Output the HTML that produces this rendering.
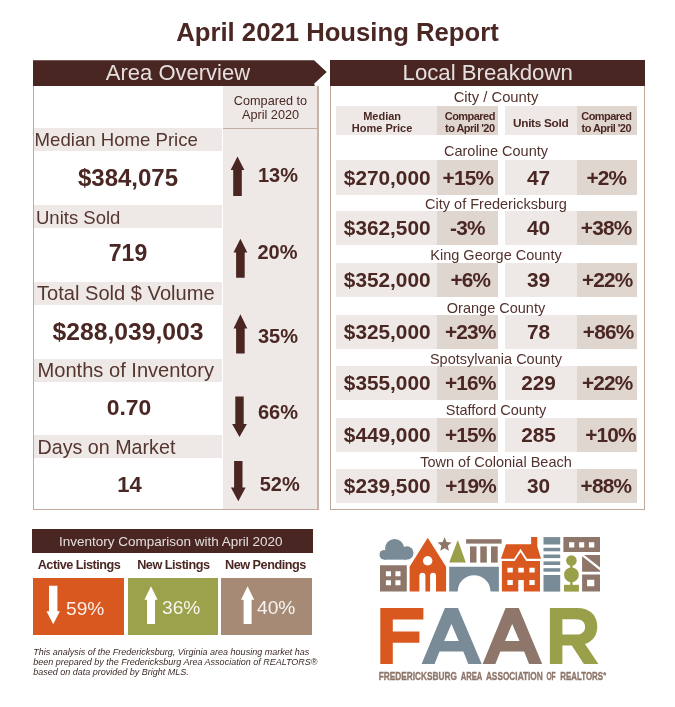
<!DOCTYPE html>
<html>
<head>
<meta charset="utf-8">
<title>April 2021 Housing Report</title>
<style>
html,body{margin:0;padding:0;}
body{width:675px;height:707px;position:relative;background:#ffffff;overflow:hidden;
  font-family:"Liberation Sans",sans-serif;color:#4a2723;}
.a{position:absolute;white-space:nowrap;}
#wrap{position:absolute;left:0;top:0;width:675px;height:707px;will-change:transform;}
.c{text-align:center;}
.hdr{background:#4a2622;color:#fff;}
.band{position:absolute;left:34px;width:188px;height:23px;background:#eee9e6;}
.lbl{position:absolute;left:36px;font-size:18.5px;line-height:23px;color:#55352f;white-space:nowrap;}
.val{position:absolute;left:34px;width:188px;text-align:center;font-weight:bold;font-size:23px;line-height:30px;white-space:nowrap;}
.pct{position:absolute;left:251px;width:54px;text-align:center;font-weight:bold;font-size:20px;line-height:26px;white-space:nowrap;}
.cn{position:absolute;left:346px;width:300px;text-align:center;font-size:14.5px;line-height:17px;white-space:nowrap;color:#52322d;}
.l1{position:absolute;left:336px;width:101.5px;height:34.4px;background:#eee9e6;}
.d1{position:absolute;left:437.4px;width:60.6px;height:34.4px;background:#e0d6d0;}
.l2{position:absolute;left:505px;width:71.6px;height:34.4px;background:#eee9e6;}
.d2{position:absolute;left:576.5px;width:60.3px;height:34.4px;background:#e0d6d0;}
.rv{position:absolute;width:120px;text-align:center;font-weight:bold;font-size:20.8px;line-height:34.4px;white-space:nowrap;}
.rp{letter-spacing:-0.8px;text-indent:-0.8px;}
.hc{font-weight:bold;font-size:11px;line-height:12px;text-align:center;white-space:nowrap;}
.lb{top:557.5px;font-size:12.7px;font-weight:bold;line-height:15px;letter-spacing:-0.5px;}
.bp{font-size:19.2px;line-height:24px;color:rgba(255,255,255,0.9);}
</style>
</head>
<body>
<div id="wrap">

<!-- Title -->
<div class="a c" style="left:0;width:675px;top:16px;font-size:25.7px;line-height:32px;font-weight:bold;color:#4a2723;">April 2021 Housing Report</div>

<!-- LEFT PANEL -->
<div class="a" style="left:33px;top:86px;width:286px;height:424px;border:1px solid #c0a99d;border-right:2px solid #c8b3a8;border-top:none;box-sizing:border-box;"></div>
<div class="a" style="left:223px;top:86px;width:94px;height:423px;background:#eee9e6;"></div>
<div class="a" style="left:223px;top:128px;width:94px;height:1px;background:#c3aea4;"></div>
<svg class="a" style="left:33px;top:60px;" width="296" height="27" viewBox="0 0 296 27">
  <path d="M0 0.2 H281.1 L293.7 12 L281.1 23.8 L281.9 26 H0 Z" fill="#4a2622"/>
</svg>
<div class="a c" style="left:33px;width:290px;top:60px;font-size:22px;line-height:26px;color:rgba(255,255,255,0.86);">Area Overview</div>
<div class="a c" style="left:223px;width:95px;top:95px;font-size:12.7px;line-height:13.5px;">Compared to<br>April 2020</div>

<div class="band" style="top:128px;"></div>
<div class="band" style="top:205px;"></div>
<div class="band" style="top:282px;"></div>
<div class="band" style="top:358.6px;"></div>
<div class="band" style="top:435.4px;"></div>
<div class="lbl" style="top:128px;left:34.6px;font-size:18.6px;">Median Home Price</div>
<div class="lbl" style="top:205.5px;">Units Sold</div>
<div class="lbl" style="top:282px;left:37px;font-size:20.1px;">Total Sold $ Volume</div>
<div class="lbl" style="top:359px;left:37.5px;font-size:20.1px;">Months of Inventory</div>
<div class="lbl" style="top:435.5px;left:37.5px;font-size:19.7px;">Days on Market</div>

<div class="val" style="top:162.8px;font-size:24px;">$384,075</div>
<div class="val" style="top:238.3px;font-size:23px;">719</div>
<div class="val" style="top:317.3px;font-size:24.7px;">$288,039,003</div>
<div class="val" style="top:392.3px;font-size:22.9px;left:35px;">0.70</div>
<div class="val" style="top:470px;font-size:22px;left:35.5px;">14</div>

<div class="pct" style="top:161.8px;">13%</div>
<div class="pct" style="top:238.8px;left:250.5px;">20%</div>
<div class="pct" style="top:323.3px;">35%</div>
<div class="pct" style="top:399.3px;">66%</div>
<div class="pct" style="top:470.8px;left:252.7px;">52%</div>

<!-- arrows left panel -->
<svg class="a" style="left:0;top:0;" width="330" height="520" viewBox="0 0 330 520">
  <g fill="#4a2622">
    <path d="M237.5 156.5 L244.4 170 H241.8 V195.9 H233.2 V170 H230.6 Z"/>
    <path d="M240.4 238.7 L247.3 252.6 H244.70000000000002 V277.7 H236.1 V252.6 H233.5 Z"/>
    <path d="M240.4 314.2 L247.3 328.5 H244.70000000000002 V353.4 H236.1 V328.5 H233.5 Z"/>
    <path d="M235.3 396.4 H243.7 V424 H246.9 L239.5 437.1 L232.1 424 H235.3 Z"/>
    <path d="M234.10000000000002 461.1 H242.5 V487.5 H245.70000000000002 L238.3 501.2 L230.9 487.5 H234.10000000000002 Z"/>
  </g>
</svg>

<!-- RIGHT PANEL -->
<div class="a" style="left:330px;top:86px;width:315.4px;height:424px;border:1px solid #bea79b;border-top:none;box-sizing:border-box;"></div>
<div class="a hdr c" style="left:330px;top:60.3px;width:315.4px;height:25.8px;font-size:22.2px;line-height:26px;color:rgba(255,255,255,0.86);">Local Breakdown</div>
<div class="cn" style="top:89.2px;font-size:14.8px;">City / County</div>
<div class="l1" style="top:106.3px;height:28.8px;"></div><div class="d1" style="top:106.3px;height:28.8px;"></div><div class="l2" style="top:106.3px;height:28.8px;"></div><div class="d2" style="top:106.3px;height:28.8px;"></div>
<div class="a hc" style="left:332.1px;width:100px;top:109.8px;">Median<br>Home Price</div>
<div class="a hc" style="left:419.8px;width:100px;top:109.6px;letter-spacing:-0.55px;">Compared<br>to April '20</div>
<div class="a hc" style="left:490.7px;width:100px;top:116.3px;letter-spacing:-0.3px;font-size:11.8px;line-height:14px;">Units Sold</div>
<div class="a hc" style="left:556.3px;width:100px;top:109.6px;letter-spacing:-0.55px;">Compared<br>to April '20</div>
<div class="l1" style="top:160.2px;"></div><div class="d1" style="top:160.2px;"></div><div class="l2" style="top:160.2px;"></div><div class="d2" style="top:160.2px;"></div>
<div class="l1" style="top:211px;"></div><div class="d1" style="top:211px;"></div><div class="l2" style="top:211px;"></div><div class="d2" style="top:211px;"></div>
<div class="l1" style="top:262.8px;"></div><div class="d1" style="top:262.8px;"></div><div class="l2" style="top:262.8px;"></div><div class="d2" style="top:262.8px;"></div>
<div class="l1" style="top:315px;"></div><div class="d1" style="top:315px;"></div><div class="l2" style="top:315px;"></div><div class="d2" style="top:315px;"></div>
<div class="l1" style="top:366.1px;"></div><div class="d1" style="top:366.1px;"></div><div class="l2" style="top:366.1px;"></div><div class="d2" style="top:366.1px;"></div>
<div class="l1" style="top:417.6px;"></div><div class="d1" style="top:417.6px;"></div><div class="l2" style="top:417.6px;"></div><div class="d2" style="top:417.6px;"></div>
<div class="l1" style="top:469.1px;"></div><div class="d1" style="top:469.1px;"></div><div class="l2" style="top:469.1px;"></div><div class="d2" style="top:469.1px;"></div>
<div class="cn" style="top:143.3px;">Caroline County</div>
<div class="rv" style="left:327.2px;top:160.5px;">$270,000</div><div class="rv rp" style="left:408.3px;top:160.5px;">+15%</div><div class="rv" style="left:478.5px;top:160.5px;">47</div><div class="rv rp" style="left:546.8px;top:160.5px;">+2%</div>
<div class="cn" style="top:196.3px;">City of Fredericksburg</div>
<div class="rv" style="left:327.2px;top:211.3px;">$362,500</div><div class="rv rp" style="left:407.8px;top:211.3px;">-3%</div><div class="rv" style="left:478.5px;top:211.3px;">40</div><div class="rv rp" style="left:546.5px;top:211.3px;">+38%</div>
<div class="cn" style="top:247.3px;">King George County</div>
<div class="rv" style="left:327.2px;top:263.1px;">$352,000</div><div class="rv rp" style="left:410.7px;top:263.1px;">+6%</div><div class="rv" style="left:478.5px;top:263.1px;">39</div><div class="rv rp" style="left:547.6px;top:263.1px;">+22%</div>
<div class="cn" style="top:299.5px;">Orange County</div>
<div class="rv" style="left:327.2px;top:315.3px;">$325,000</div><div class="rv rp" style="left:410.7px;top:315.3px;">+23%</div><div class="rv" style="left:478.5px;top:315.3px;">78</div><div class="rv rp" style="left:548.5px;top:315.3px;">+86%</div>
<div class="cn" style="top:350.6px;">Spotsylvania County</div>
<div class="rv" style="left:327.2px;top:366.4px;">$355,000</div><div class="rv rp" style="left:410.7px;top:366.4px;">+16%</div><div class="rv" style="left:478.5px;top:366.4px;">229</div><div class="rv rp" style="left:547.6px;top:366.4px;">+22%</div>
<div class="cn" style="top:402.1px;">Stafford County</div>
<div class="rv" style="left:327.2px;top:417.9px;">$449,000</div><div class="rv rp" style="left:410.7px;top:417.9px;">+15%</div><div class="rv" style="left:478.5px;top:417.9px;">285</div><div class="rv rp" style="left:550.9px;top:417.9px;">+10%</div>
<div class="cn" style="top:453.6px;">Town of Colonial Beach</div>
<div class="rv" style="left:327.2px;top:469.4px;">$239,500</div><div class="rv rp" style="left:411.0px;top:469.4px;">+19%</div><div class="rv" style="left:478.5px;top:469.4px;">30</div><div class="rv rp" style="left:546.3px;top:469.4px;">+88%</div>

<!-- BOTTOM LEFT -->
<div class="a hdr c" style="left:32.3px;top:529.1px;width:280.9px;height:24.4px;font-size:13.5px;line-height:25.5px;color:rgba(255,255,255,0.85);text-indent:-4px;">Inventory Comparison with April 2020</div>
<div class="a lb" style="left:37.7px;">Active Listings</div>
<div class="a lb" style="left:137.2px;">New Listings</div>
<div class="a lb" style="left:225px;">New Pendings</div>
<div class="a" style="left:32.6px;top:578px;width:91.3px;height:56.7px;background:#d9581f;"></div>
<div class="a" style="left:127.7px;top:578px;width:90.6px;height:56.7px;background:#9ba24b;"></div>
<div class="a" style="left:221.2px;top:578px;width:90.6px;height:56.7px;background:#a68a76;"></div>
<svg class="a" style="left:0;top:570px;" width="330" height="70" viewBox="0 570 330 70">
  <g fill="#fff">
    <path d="M49.0 585.8 H57.400000000000006 V611.3 H59.900000000000006 L53.2 624.3 L46.5 611.3 H49.0 Z"/>
    <path d="M151 586.2 L157.6 599.8 H155.0 V624.1 H147.0 V599.8 H144.4 Z"/>
    <path d="M247.6 586.2 L254.2 599.8 H251.6 V624.1 H243.6 V599.8 H241.0 Z"/>
  </g>
</svg>
<div class="a bp" style="left:66px;top:596.6px;">59%</div>
<div class="a bp" style="left:162px;top:595.8px;">36%</div>
<div class="a bp" style="left:257px;top:595.8px;">40%</div>
<div class="a" style="left:33.2px;top:648.2px;font-size:9px;line-height:9.8px;font-style:italic;color:#3d2b28;">This analysis of the Fredericksburg, Virginia area housing market has<br>been prepared by the Fredericksburg Area Association of REALTORS®<br>based on data provided by Bright MLS.</div>

<!-- LOGO -->
<svg class="a" id="logo" style="left:370px;top:525px;" width="250" height="170" viewBox="370 525 250 170">
  <!-- cloud -->
  <g fill="#788b96">
    <circle cx="394.6" cy="548.4" r="9.5"/><circle cx="406.8" cy="552.9" r="6.7"/><circle cx="384.4" cy="554.8" r="4.9"/><rect x="384.4" y="551" width="22.4" height="8.65"/>
    <!-- bridge -->
    <path d="M449.2 566.7 H498.9 V591.6 H490.5 A16.4 16.4 0 0 0 457.7 591.6 H449.2 Z"/>
    <!-- tall building -->
    <rect x="543.5" y="537.1" width="16.7" height="7.4"/>
    <rect x="543.5" y="547.8" width="16.7" height="3.5"/>
    <rect x="543.5" y="554.5" width="16.7" height="3.6"/>
    <rect x="543.5" y="561.4" width="16.7" height="3.6"/>
    <rect x="543.5" y="568.2" width="16.7" height="3.5"/>
    <rect x="543.5" y="575" width="16.7" height="16.6"/>
  </g>
  <g fill="#8e766a">
    <!-- left building -->
    <path fill-rule="evenodd" d="M380 565.2 H406.8 V591.6 H380 Z M385.9 571.2 V576.2 H391 V571.2 Z M395.4 571.2 V576.2 H400.5 V571.2 Z M385.9 580.3 V585.2 H391 V580.3 Z M395.4 580.3 V585.2 H400.5 V580.3 Z"/>
    <!-- star -->
    <path d="M444.6 537.3 L446.6 541.9 L451.6 542.4 L447.9 545.8 L448.9 550.7 L444.6 548.2 L440.3 550.7 L441.3 545.8 L437.6 542.4 L442.6 541.9 Z"/>
    <!-- columns -->
    <rect x="466.1" y="539.2" width="35.5" height="4.4"/>
    <rect x="470" y="546.4" width="6.5" height="16.2"/>
    <rect x="480.3" y="546.4" width="6.5" height="16.2"/>
    <rect x="491" y="546.4" width="6.7" height="16.2"/>
    <!-- right buildings -->
    <path fill-rule="evenodd" d="M563.4 537.1 H600 V551.9 H563.4 Z M569.1 542.2 V547.5 H574.3 V542.2 Z M579.1 542.2 V547.5 H584.2 V542.2 Z M588.9 542.2 V547.5 H594.3 V542.2 Z"/>
    <path d="M584.2 554.9 H600 V567.6 Z M582.1 556.3 L600 570.6 V571.7 H582.1 Z"/>
    <path fill-rule="evenodd" d="M582.1 574.4 H600 V591.6 H582.1 Z M587.1 579.8 V586.3 H594.3 V579.8 Z"/>
  </g>
  <g fill="#d9581f">
    <!-- church -->
    <path fill-rule="evenodd" d="M427.7 537.7 L446.1 566.7 V591.6 H436 V575.7 A2.95 2.95 0 0 0 430.1 575.7 V591.6 H425.4 V575.7 A3 3 0 0 0 419.4 575.7 V591.6 H409.6 V566.7 Z M427.7 556.1 a4.7 4.7 0 1 0 0.01 0 Z"/>
    <!-- house -->
    <path d="M531.1 537.1 H537.3 V546.5 L541 558.8 H527 L520.5 548.8 L514 558.8 H500.9 L506 544.2 H531.1 Z"/>
    <path fill-rule="evenodd" d="M501.9 561 H514.8 L520.5 552.2 L526.2 561 H540 V591.6 H523.8 V580 H518.3 V591.6 H501.9 Z M507.4 567.7 V572.5 H512.8 V567.7 Z M518.3 567.7 V572.5 H523.8 V567.7 Z M529.4 567.7 V572.5 H534.7 V567.7 Z M507.4 580 V585.1 H512.8 V580 Z M529.4 580 V585.1 H534.7 V580 Z"/>
    <!-- F -->
    <path d="M380.3 608 H423.4 V619.6 H392.8 V631.6 H419.4 V642.7 H392.8 V664 H380.3 Z"/>
  </g>
  <g fill="#9a9f49">
    <!-- tree -->
    <path d="M457.8 540.1 L465.8 562.6 H449.2 Z"/>
    <!-- topiary -->
    <circle cx="571.4" cy="560.6" r="5.3"/>
    <circle cx="571.4" cy="574.8" r="7.4"/>
    <rect x="570.2" y="560" width="2.4" height="26"/>
    <rect x="564" y="584.8" width="14.9" height="6.8"/>
    <!-- R -->
    <path fill-rule="evenodd" d="M549.9 608 H577 C590 608 597.3 615.5 597.3 626.4 C597.3 635.5 592.5 641.5 585 644 L598.4 664 H583.9 L571.8 645.6 H562.4 V664 H549.9 Z M562.4 619.2 V634.6 H576 C581.5 634.6 585.1 631.6 585.1 626.9 C585.1 621.9 581.5 619.2 576 619.2 Z"/>
  </g>
  <!-- A1 -->
  <path fill="#788b96" fill-rule="evenodd" d="M444.9 608 H458 L481.7 664 H468.3 L463.3 651.6 H439.5 L434.6 664 H421.6 Z M451.4 624 L444.2 640.9 H458.7 Z"/>
  <!-- A2 -->
  <path fill="#8e766a" fill-rule="evenodd" d="M505.6 608 H518.8 L542.2 664 H529.1 L524.1 651.6 H500.3 L495.4 664 H482.6 Z M512.2 624 L505 640.9 H519.5 Z"/>
  <g font-family="Liberation Sans, sans-serif" font-weight="bold" font-size="10.7" fill="#8e766a" stroke="#8e766a" stroke-width="0.35">
    <text x="378.7" y="679.7" textLength="78.3" lengthAdjust="spacingAndGlyphs">FREDERICKSBURG</text>
    <text x="460.7" y="679.7" textLength="21.7" lengthAdjust="spacingAndGlyphs">AREA</text>
    <text x="485.9" y="679.7" textLength="56.9" lengthAdjust="spacingAndGlyphs">ASSOCIATION</text>
    <text x="546.4" y="679.7" textLength="9.2" lengthAdjust="spacingAndGlyphs">OF</text>
    <text x="560.2" y="679.7" textLength="42.9" lengthAdjust="spacingAndGlyphs">REALTORS</text>
    <text x="603" y="678.3" font-size="8.5" stroke-width="0.2">*</text>
  </g>
</svg>

</div>
</body>
</html>
